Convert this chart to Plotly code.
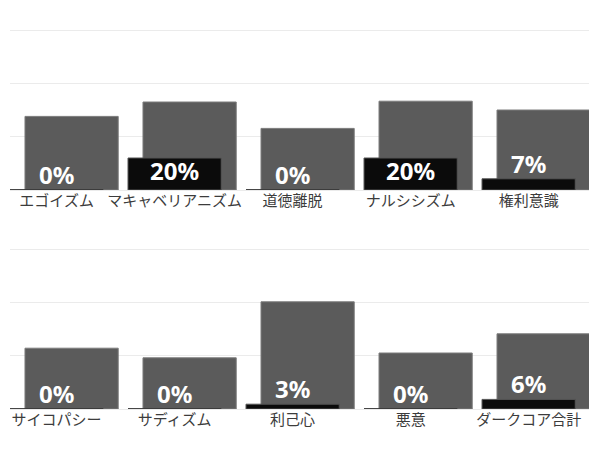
import plotly.graph_objects as go

# upper chart
labels_top = ['エゴイズム', 'マキャベリアニズム', '道徳離脱', 'ナルシシズム', '権利意識']
avg_top = [46, 55, 38.5, 55.5, 50]
score_top = [0, 20, 0, 20, 7]

# lower chart
labels_bottom = ['サイコパシー', 'サディズム', '利己心', '悪意', 'ダークコア合計']
avg_bottom = [38, 32, 67, 35, 47]
score_bottom = [0, 0, 3, 0, 6]

BAR_W = 0.79
SHIFT = 0.127  # grey bar sits a bit to the right of the black one

fig = go.Figure()


def add_pair(labels, avg, score, xa, ya):
    pos = list(range(len(labels)))
    fig.add_trace(go.Bar(
        x=pos, y=avg, xaxis=xa, yaxis=ya,
        width=BAR_W, offset=-BAR_W / 2 + SHIFT,
        marker=dict(color='#5b5b5b', line=dict(color='#7c7c7c', width=1)),
        hoverinfo='skip', showlegend=False,
    ))
    fig.add_trace(go.Bar(
        x=pos, y=score, xaxis=xa, yaxis=ya,
        width=BAR_W, offset=-BAR_W / 2,
        marker=dict(color='#0b0b0b', line=dict(color='#555555', width=1)),
        showlegend=False,
    ))
    # zero bars are not drawn by plotly, show them as a flat dark edge
    zx, zy = [], []
    for p, v in zip(pos, score):
        if v == 0:
            zx += [p - BAR_W / 2, p + BAR_W / 2, None]
            zy += [0, 0, None]
    fig.add_trace(go.Scatter(
        x=zx, y=zy, xaxis=xa, yaxis=ya, mode='lines',
        line=dict(color='#333333', width=1.5), cliponaxis=False,
        hoverinfo='skip', showlegend=False,
    ))
    # percentage labels: centred in the bar when it is tall enough, else on top
    tall = [v >= 15 for v in score]
    fig.add_trace(go.Scatter(
        x=pos, y=[v / 2 if t else v for v, t in zip(score, tall)],
        xaxis=xa, yaxis=ya, mode='text',
        text=[f'{v}%' for v in score],
        textposition=['middle center' if t else 'top center' for t in tall],
        textfont=dict(family='Noto Sans', size=24, color='white', weight='bold'),
        cliponaxis=False, hoverinfo='skip', showlegend=False,
    ))
    return pos


pos_t = add_pair(labels_top, avg_top, score_top, 'x', 'y')
pos_b = add_pair(labels_bottom, avg_bottom, score_bottom, 'x2', 'y2')

# page body adds an 8px offset, domains are set in figure pixels
H = 470
xcommon = dict(range=[-0.395, 4.52], showgrid=False, zeroline=False,
               showline=True, linecolor='#ebebeb', linewidth=1,
               ticks='', ticklabelstandoff=-3,
               tickfont=dict(family='Noto Sans CJK JP', size=15, color='#3c3c3c'))
ycommon = dict(range=[0, 101.875], tickvals=[0, 100 / 3, 200 / 3, 100], showticklabels=False,
               showgrid=True, gridcolor='#ebebeb', gridwidth=1, zeroline=False)

fig.update_layout(
    width=597, height=H,
    margin=dict(l=2, r=15, t=0, b=0),
    paper_bgcolor='white', plot_bgcolor='white',
    barmode='overlay',
    xaxis=dict(anchor='y', tickvals=pos_t, ticktext=labels_top, **xcommon),
    yaxis=dict(anchor='x', domain=[1 - 182 / H, 1 - 19 / H], **ycommon),
    xaxis2=dict(anchor='y2', tickvals=pos_b, ticktext=labels_bottom, **xcommon),
    yaxis2=dict(anchor='x2', domain=[1 - 401 / H, 1 - 238 / H], **ycommon),
)

fig.write_html('out.html')
